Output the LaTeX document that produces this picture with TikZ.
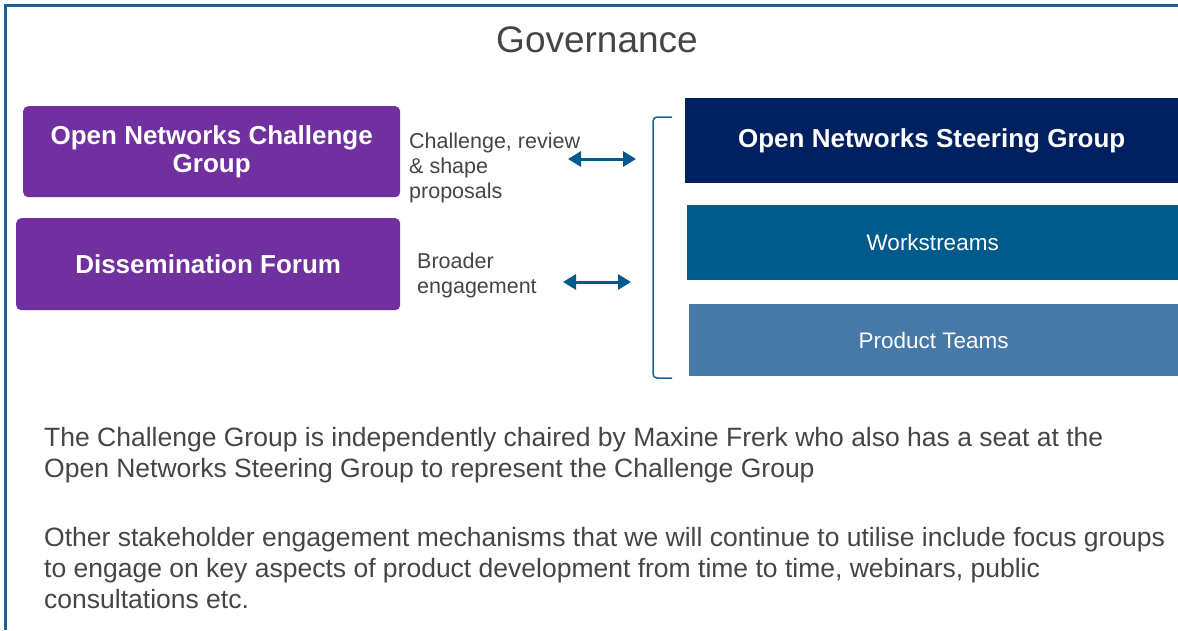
\documentclass[tikz,border=0pt]{standalone}
\usepackage{fontspec}
\setmainfont{Liberation Sans}
\usepackage{tikz}
\usetikzlibrary{arrows.meta, positioning}

\definecolor{ongpurple}{HTML}{7030A0}
\definecolor{ongnavy}{HTML}{002060}
\definecolor{ongblue}{HTML}{005A8C}
\definecolor{onglight}{HTML}{4678A8}
\definecolor{ongline}{HTML}{1F5F99}
\definecolor{ongtext}{HTML}{454545}

\begin{document}
\begin{tikzpicture}[
            x=1pt, y=-1pt, % pixel-like coordinates, y downwards
            purplebox/.style={fill=ongpurple, rounded corners=5pt, text=white, align=center, anchor=north west, inner sep=0pt, font=\bfseries\fontsize{26}{28}\selectfont}, % left groups
            bluebox/.style={anchor=north west, inner sep=0pt, text=white, align=center, font=\fontsize{22.5}{25}\selectfont}, % right groups
            sidetext/.style={anchor=west, inner sep=0pt, align=left, text=ongtext, font=\fontsize{21.5}{25}\selectfont}, % arrow labels
            bodytext/.style={anchor=west, inner sep=0pt, align=left, text=ongtext, font=\fontsize{26.5}{31}\selectfont}, % paragraphs
            twoway/.style={ongblue, line width=3pt, {Triangle[length=13pt,width=15pt]}-{Triangle[length=13pt,width=15pt]}} % double arrow
            ]

                \useasboundingbox (0,0) rectangle (1178,630);

                % frame
                \draw[ongline, line width=3pt] (5.5,630) -- (5.5,5.5) -- (1178,5.5);

                % title
                \node[text=ongtext, font=\fontsize{37}{40}\selectfont] (title) at (597,40) {Governance};

                % left boxes
                \node[purplebox, minimum width=377pt, minimum height=91pt] (challenge) at (23,106) {Open Networks Challenge\\Group};
                \node[purplebox, minimum width=384pt, minimum height=92pt] (forum) at (16,218) {Dissemination Forum};

                % right boxes
                \node[bluebox, fill=ongnavy, minimum width=493pt, minimum height=85pt, font=\bfseries\fontsize{26}{28}\selectfont] (steering) at (685,98) {Open Networks Steering Group};
                \node[bluebox, fill=ongblue, minimum width=491pt, minimum height=75pt] (workstreams) at (687,205) {Workstreams};
                \node[bluebox, fill=onglight, minimum width=489pt, minimum height=72pt] (products) at (689,304) {Product Teams};

                % bracket
                \draw[ongline, line width=1.5pt, rounded corners=4pt] (672,117) -- (653,117) -- (653,378) -- (672,378);

                % arrow labels and arrows
                \node[sidetext] (shape) at (409,168) {Challenge, review\\\& shape\\proposals};
                \node[sidetext] (broader) at (417,275) {Broader\\engagement};
                \coordinate (a1) at (568,159);
                \coordinate (b1) at (636,159);
                \coordinate (a2) at (563,282);
                \coordinate (b2) at (631,282);
                \draw[twoway] (a1) -- (b1);
                \draw[twoway] (a2) -- (b2);

                % notes
                \node[bodytext] (chair) at (44,455) {The Challenge Group is independently chaired by Maxine Frerk who also has a seat at the\\Open Networks Steering Group to represent the Challenge Group};
                \node[bodytext] (other) at (44,568) {Other stakeholder engagement mechanisms that we will continue to utilise include focus groups\\to engage on key aspects of product development from time to time, webinars, public\\consultations etc.};

            \end{tikzpicture}
\end{document}
